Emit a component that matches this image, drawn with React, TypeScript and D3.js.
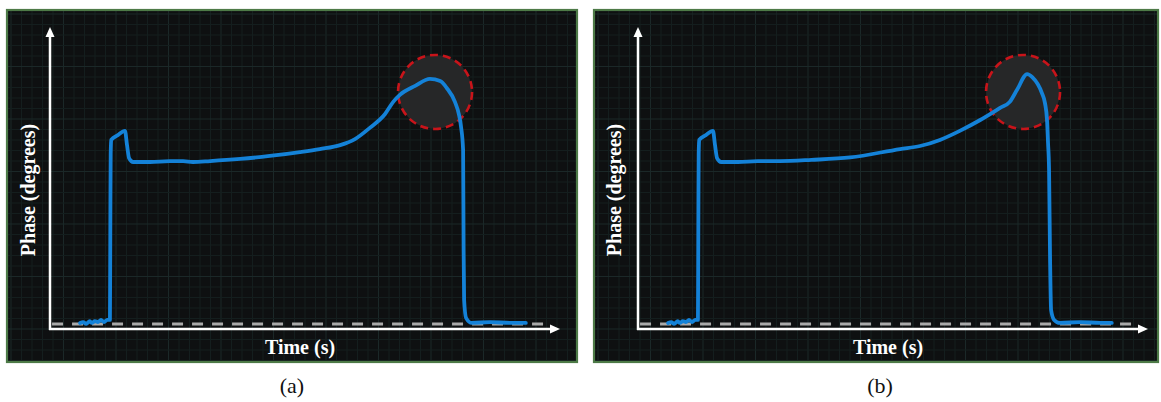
import * as d3 from "d3";

const W = 1161;
const H = 402;

// time (s) / phase (deg, relative)
const TIME_A = [0.59, 0.65, 0.71, 0.78, 0.82, 0.88, 0.94, 1.0, 1.06, 1.12, 1.175, 1.18, 1.185, 1.19, 1.2, 1.33, 1.47, 1.51, 1.55, 1.63, 1.96, 2.35, 2.61, 2.8, 3.14, 3.73, 4.31, 4.9, 5.29, 5.69, 5.98, 6.27, 6.57, 6.73, 6.86, 7.16, 7.45, 7.65, 7.78, 7.94, 8.02, 8.06, 8.1, 8.11, 8.12, 8.16, 8.27, 8.63, 9.02, 9.33];
const PHASE_A = [2.0, 2.3, 1.7, 2.6, 2.0, 2.6, 2.3, 3.0, 2.3, 3.0, 3.0, 20.0, 42.7, 58.0, 62.6, 64.2, 65.6, 60.9, 56.6, 55.3, 55.3, 55.6, 55.6, 55.3, 55.6, 56.3, 57.3, 58.6, 59.6, 60.9, 62.9, 66.6, 71.2, 75.2, 77.5, 80.5, 82.8, 82.1, 79.8, 75.2, 70.9, 66.9, 59.3, 26.2, 9.6, 3.6, 2.0, 2.3, 2.0, 2.0];

const TIME_B = [0.59, 0.65, 0.71, 0.78, 0.82, 0.88, 0.94, 1.0, 1.06, 1.12, 1.175, 1.18, 1.185, 1.19, 1.2, 1.33, 1.47, 1.51, 1.55, 1.63, 1.96, 2.35, 2.78, 3.4, 4.16, 5.14, 5.53, 5.92, 6.31, 6.71, 7.1, 7.29, 7.43, 7.63, 7.73, 7.92, 7.98, 8.02, 8.04, 8.06, 8.08, 8.1, 8.16, 8.27, 8.67, 9.06, 9.29];
const PHASE_B = [2.0, 2.3, 1.7, 2.6, 2.0, 2.6, 2.3, 3.0, 2.3, 3.0, 3.0, 20.0, 42.7, 58.0, 62.6, 64.2, 65.6, 60.9, 56.6, 55.3, 55.3, 55.6, 55.6, 56.0, 56.8, 59.6, 60.6, 62.6, 65.6, 69.2, 73.2, 75.2, 79.1, 84.4, 83.4, 78.1, 74.8, 69.2, 61.6, 52.6, 22.8, 6.3, 3.0, 2.0, 2.3, 2.0, 2.0];

const BASELINE = 1.66;
const HIGHLIGHT = { t: 7.55, p: 78.5 };

const PANELS = [
  { id: "a", x: 7, w: 570, axisX: 50, time: TIME_A, phase: PHASE_A, caption: "(a)", capX: 292, labX: 28 },
  { id: "b", x: 594, w: 564, axisX: 638, time: TIME_B, phase: PHASE_B, caption: "(b)", capX: 880, labX: 614 },
];

const PANEL_Y = 10;
const PANEL_H = 352;
const AXIS_Y = 329;
const AXIS_TOP = 27;
const AXIS_LEN = 510;
const SERIF = "'Liberation Serif', 'Times New Roman', serif";

function Panel({ p }: { p: (typeof PANELS)[0] }) {
  const x = d3.scaleLinear().domain([0, 10]).range([p.axisX, p.axisX + AXIS_LEN]);
  const y = d3.scaleLinear().domain([0, 100]).range([AXIS_Y, AXIS_TOP]);
  const pts = p.time.map((t, i) => [t, p.phase[i]] as [number, number]);
  const line = d3.line<[number, number]>()
    .x(d => x(d[0])).y(d => y(d[1]))
    .curve(d3.curveMonotoneX);

  const gridX = d3.range(p.x + 4, p.x + p.w, 10.5);
  const gridY = d3.range(PANEL_Y + 4, PANEL_Y + PANEL_H, 10.5);
  const clipId = `clip-${p.id}`;

  return (
    <g>
      <defs>
        <clipPath id={clipId}>
          <rect x={p.x} y={PANEL_Y} width={p.w} height={PANEL_H} />
        </clipPath>
      </defs>
      <rect x={p.x} y={PANEL_Y} width={p.w} height={PANEL_H} fill="#0e1011" />
      <g clipPath={`url(#${clipId})`}>
        {gridX.map((gx, i) => (
          <line key={"gx" + i} x1={gx} x2={gx} y1={PANEL_Y} y2={PANEL_Y + PANEL_H}
            stroke={i % 5 === 0 ? "#1b2828" : "#141e1e"} strokeWidth={1} />
        ))}
        {gridY.map((gy, i) => (
          <line key={"gy" + i} x1={p.x} x2={p.x + p.w} y1={gy} y2={gy}
            stroke={i % 5 === 0 ? "#1b2828" : "#141e1e"} strokeWidth={1} />
        ))}
      </g>
      <rect x={p.x} y={PANEL_Y} width={p.w} height={PANEL_H} fill="none" stroke="#4d7a47" strokeWidth={2.2} />

      {/* highlight circle */}
      <circle cx={x(HIGHLIGHT.t)} cy={y(HIGHLIGHT.p)} r={37} fill="#262728"
        stroke="#c8141a" strokeWidth={2.6} strokeDasharray="8 5" />

      {/* baseline */}
      <line x1={x(0.04)} x2={x(9.72)} y1={y(BASELINE)} y2={y(BASELINE)}
        stroke="#a9a9a9" strokeWidth={3} strokeDasharray="11 9" />

      {/* axes */}
      <line x1={p.axisX} x2={p.axisX} y1={AXIS_Y + 1} y2={AXIS_TOP + 8} stroke="#fff" strokeWidth={2.5} />
      <path d={`M${p.axisX},${AXIS_TOP} L${p.axisX - 4.5},${AXIS_TOP + 10} L${p.axisX + 4.5},${AXIS_TOP + 10} Z`} fill="#fff" />
      <line x1={p.axisX - 1} x2={p.axisX + AXIS_LEN - 8} y1={AXIS_Y} y2={AXIS_Y} stroke="#fff" strokeWidth={2.5} />
      <path d={`M${p.axisX + AXIS_LEN},${AXIS_Y} L${p.axisX + AXIS_LEN - 10},${AXIS_Y - 4.5} L${p.axisX + AXIS_LEN - 10},${AXIS_Y + 4.5} Z`} fill="#fff" />

      {/* signal */}
      <path d={line(pts) ?? ""} fill="none" stroke="#1482d8" strokeWidth={3.8}
        strokeLinejoin="round" strokeLinecap="round" />

      <text x={p.labX} y={190} transform={`rotate(-90, ${p.labX}, 190)`} textAnchor="middle"
        dominantBaseline="central" fill="#fff" fontWeight="bold" fontSize={20}
        fontFamily={SERIF}>Phase (degrees)</text>
      <text x={x(5) - 5} y={354} textAnchor="middle" fill="#fff" fontWeight="bold" fontSize={20}
        fontFamily={SERIF}>Time (s)</text>
      <text x={p.capX} y={393} textAnchor="middle" fill="#111" fontSize={22}
        fontFamily={SERIF}>{p.caption}</text>
    </g>
  );
}

export default function App() {
  return (
    <svg width={W} height={H} style={{ position: "absolute", left: 0, top: 0, background: "#fff" }}>
      {PANELS.map(p => <Panel key={p.id} p={p} />)}
    </svg>
  );
}
